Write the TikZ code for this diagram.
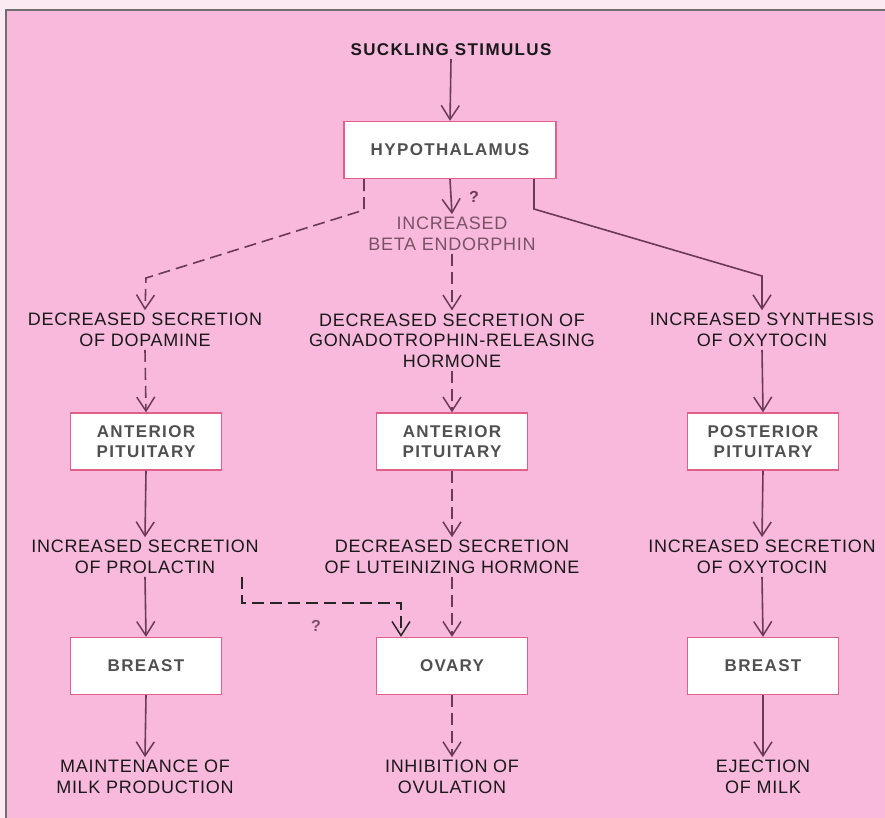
\documentclass[tikz,border=0pt]{standalone}
\usepackage{fontspec}
\usetikzlibrary{arrows.meta}
\newfontfamily\labf[LetterSpace=4]{Liberation Sans}
\newfontfamily\boxfont[LetterSpace=8]{Liberation Sans}
\definecolor{bgpink}{HTML}{F8B9DC}
\definecolor{outer}{HTML}{FBEAF2}
\definecolor{plum}{HTML}{6B3A57}
\definecolor{boxred}{HTML}{E0608A}
\definecolor{boxtxt}{HTML}{505050}
\definecolor{betatxt}{HTML}{7A5266}
\definecolor{frame}{HTML}{707070}
\tikzset{
  lab/.style={align=center,inner sep=3pt,text=black!90,font=\labf\fontsize{18}{20.5}\selectfont},
  bx/.style={draw=boxred,line width=1.3pt,fill=white,align=center,minimum width=151pt,minimum height=57pt,text=boxtxt,font=\boxfont\bfseries\fontsize{17}{20}\selectfont},
  arr/.style={draw=plum,line width=1.6pt,-{Straight Barb[length=14pt,width=18pt,line width=1.5pt]}},
  dsh/.style={dash pattern=on 12pt off 6pt},
  qm/.style={font=\boxfont\bfseries\fontsize{16}{18}\selectfont,inner sep=0pt}
}
\begin{document}
\begin{tikzpicture}[x=1pt,y=-1pt]
\useasboundingbox (0,0) rectangle (885,818);
\fill[outer] (0,0) rectangle (885,818);
\fill[bgpink] (6,10) rectangle (885,818);
\draw[frame,line width=1.2pt] (6,818) -- (6,10) -- (885,10);

% nodes
\node[lab,font=\boxfont\bfseries\fontsize{17}{20}\selectfont] (stim) at (451,50) {SUCKLING STIMULUS};
\node[bx,minimum width=212pt] (hyp) at (450,150) {HYPOTHALAMUS};
\node[lab,text=betatxt] (beta) at (452,234) {INCREASED\\BETA ENDORPHIN};
\node[qm,text=plum] (q1) at (474,197) {?};

\node[lab] (dop) at (145,330) {DECREASED SECRETION\\OF DOPAMINE};
\node[lab] (gnrh) at (452,340.5) {DECREASED SECRETION OF\\GONADOTROPHIN-RELEASING\\HORMONE};
\node[lab] (oxy) at (762,330) {INCREASED SYNTHESIS\\OF OXYTOCIN};

\node[bx] (ap1) at (146,441.5) {ANTERIOR\\PITUITARY};
\node[bx] (ap2) at (452,441.5) {ANTERIOR\\PITUITARY};
\node[bx] (pp) at (763,441.5) {POSTERIOR\\PITUITARY};

\node[lab] (prl) at (145,557) {INCREASED SECRETION\\OF PROLACTIN};
\node[lab] (lh) at (452,557) {DECREASED SECRETION\\OF LUTEINIZING HORMONE};
\node[lab] (oxs) at (762,557) {INCREASED SECRETION\\OF OXYTOCIN};

\node[bx] (br1) at (146,666) {BREAST};
\node[bx] (ov) at (452,666) {OVARY};
\node[bx] (br2) at (763,666) {BREAST};
\node[qm,text=betatxt] (q2) at (316,626) {?};

\node[lab] (milk) at (145,777) {MAINTENANCE OF\\MILK PRODUCTION};
\node[lab] (inh) at (452,777) {INHIBITION OF\\OVULATION};
\node[lab] (ej) at (763,777) {EJECTION\\OF MILK};

% helper coordinates
\coordinate (l1) at (364,210);
\coordinate (l2) at (146,278);
\coordinate (r1) at (534,209);
\coordinate (r2) at (762,276);
\coordinate (p1) at (242,603);
\coordinate (p2) at (401,603);

% connectors
\draw[arr] (stim.south) -- (hyp.north);
\draw[arr] (hyp.south) -- (beta.north);
\draw[arr,dsh] (hyp.south -| l1) -- (l1) -- (l2) -- (dop.north);
\draw[arr] (hyp.south -| r1) -- (r1) -- (r2) -- (oxy.north);
\draw[arr,dsh] (beta.south) -- (gnrh.north);

\draw[arr,dsh] (dop.south) -- (ap1.north);
\draw[arr,dsh] (gnrh.south) -- (ap2.north);
\draw[arr] (oxy.south) -- (pp.north);

\draw[arr] (ap1.south) -- (prl.north);
\draw[arr,dsh] (ap2.south) -- (lh.north);
\draw[arr] (pp.south) -- (oxs.north);

\draw[arr] (prl.south) -- (br1.north);
\draw[arr,dsh] (lh.south) -- (ov.north);
\draw[arr] (oxs.south) -- (br2.north);
\draw[arr,dsh,draw=black!85] (prl.south -| p1) -- (p1) -- (p2) -- (ov.north -| p2);

\draw[arr] (br1.south) -- (milk.north);
\draw[arr,dsh] (ov.south) -- (inh.north);
\draw[arr] (br2.south) -- (ej.north);
\end{tikzpicture}
\end{document}
